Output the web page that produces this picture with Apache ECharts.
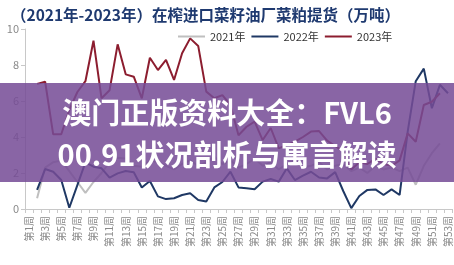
<!DOCTYPE html>
<html><head><meta charset="utf-8">
<script src="https://cdn.jsdelivr.net/npm/echarts@6/dist/echarts.min.js"></script>
<style>html,body{margin:0;padding:0;background:#fff;}#c{width:454px;height:265px;}</style>
</head><body><div id="c"></div>
<script>
var weeks = ["第1周","第2周","第3周","第4周","第5周","第6周","第7周","第8周","第9周","第10周",
"第11周","第12周","第13周","第14周","第15周","第16周","第17周","第18周","第19周","第20周",
"第21周","第22周","第23周","第24周","第25周","第26周","第27周","第28周","第29周","第30周",
"第31周","第32周","第33周","第34周","第35周","第36周","第37周","第38周","第39周","第40周",
"第41周","第42周","第43周","第44周","第45周","第46周","第47周","第48周","第49周","第50周",
"第51周","第52周","第53周"];
var yTicks = [0, 2, 4, 6, 8, 10];
var seriesNames = ["2021年", "2022年", "2023年"];
var data2021 = [null,0.6,2.3,2.6,2.7,2.1,1.5,0.9,1.5,2.0,
2.6,2.85,2.8,2.4,2.35,2.7,2.6,2.4,2.2,2.5,
2.7,2.4,2.6,2.9,2.5,2.7,2.3,2.5,2.8,2.4,
2.6,2.2,2.5,2.7,2.3,2.4,2.6,2.2,2.4,2.5,
2.1,2.3,2.0,2.4,2.2,2.3,2.1,2.3,1.35,2.4,
3.1,3.65,null];
var data2022 = [null,1.06,2.22,2.07,1.61,0.07,1.33,2.59,2.35,2.26,
1.74,1.98,2.11,2.04,1.19,1.56,0.7,0.55,0.6,0.78,
0.87,0.5,0.42,1.2,1.5,2.07,1.2,1.15,1.1,1.52,
1.67,1.52,2.26,1.61,1.85,2.07,1.75,1.7,2.05,1.0,
0.05,0.72,1.06,1.09,0.78,1.09,0.78,4.3,7.1,7.8,
5.6,6.9,6.43];
var data2023 = [null,6.95,7.07,4.15,4.15,5.5,6.5,7.1,9.35,6.15,
6.6,9.15,7.48,7.35,6.15,8.4,7.72,8.28,7.17,8.65,
9.48,9.06,6.52,6.15,6.33,5.78,4.1,4.57,4.85,3.83,
4.5,3.37,3.56,3.74,4.0,4.3,4.33,3.8,3.5,3.2,
2.2,2.6,2.5,2.8,2.5,2.4,2.7,4.2,3.74,5.78,
5.96,6.43,null];
var titleText = "（2021年-2023年）在榨进口菜籽油厂菜粕提货（万吨）";
var bannerLines = ["澳门正版资料大全：FVL6", "00.91状况剖析与寓言解读"];
var colors = ["#bfbfbf", "#1f3864", "#8c1d2f"];

var chart = echarts.init(document.getElementById('c'), null, {renderer: 'canvas'});
var font = "'Noto Sans CJK SC', 'Noto Sans', sans-serif";
chart.setOption({
  animation: false,
  backgroundColor: '#ffffff',
  title: {
    text: titleText, left: 6, top: 2,
    textStyle: {fontSize: 15.5, fontWeight: 'bold', color: '#1f3a70', fontFamily: font}
  },
  legend: {
    data: seriesNames, left: 173, top: 26, icon: 'rect', itemWidth: 27, itemHeight: 2,
    itemGap: 6,
    textStyle: {fontSize: 11, color: '#333', fontFamily: font}
  },
  grid: {left: 25, right: 2, top: 29, bottom: 56, containLabel: false},
  xAxis: {
    type: 'category', data: weeks, boundaryGap: true,
    axisLine: {lineStyle: {color: '#c8c8c8'}},
    axisTick: {show: true, interval: 0, length: 4, lineStyle: {color: '#c8c8c8'}},
    axisLabel: {interval: 1, rotate: 90, fontSize: 10, color: '#8a8a8a', margin: 7, fontFamily: font}
  },
  yAxis: {
    type: 'value', min: yTicks[0], max: yTicks[yTicks.length - 1], interval: 2,
    axisLine: {show: true, lineStyle: {color: '#c8c8c8'}},
    axisTick: {show: true, length: 4, lineStyle: {color: '#c8c8c8'}},
    splitLine: {show: false},
    axisLabel: {fontSize: 11, color: '#8a8a8a', margin: 6, fontFamily: font}
  },
  series: [
    {name: seriesNames[0], type: 'line', data: data2021, showSymbol: false, symbol: 'none',
     lineStyle: {color: colors[0], width: 2}, itemStyle: {color: colors[0]}, z: 2},
    {name: seriesNames[1], type: 'line', data: data2022, showSymbol: false, symbol: 'none',
     lineStyle: {color: colors[1], width: 2}, itemStyle: {color: colors[1]}, z: 3},
    {name: seriesNames[2], type: 'line', data: data2023, showSymbol: false, symbol: 'none',
     lineStyle: {color: colors[2], width: 2}, itemStyle: {color: colors[2]}, z: 4}
  ],
  graphic: [
    {type: 'rect', z: 100, shape: {x: 0, y: 83, width: 454, height: 99},
     style: {fill: 'rgba(118,76,150,0.86)'}},
    {type: 'text', z: 101, x: 227, y: 113,
     style: {text: bannerLines[0], fill: '#ffffff', font: "bold 29px 'Noto Sans CJK SC'",
             textAlign: 'center', textVerticalAlign: 'middle'}},
    {type: 'text', z: 101, x: 227, y: 155,
     style: {text: bannerLines[1], fill: '#ffffff', font: "bold 29px 'Noto Sans CJK SC'",
             textAlign: 'center', textVerticalAlign: 'middle'}}
  ]
});
</script></body></html>
